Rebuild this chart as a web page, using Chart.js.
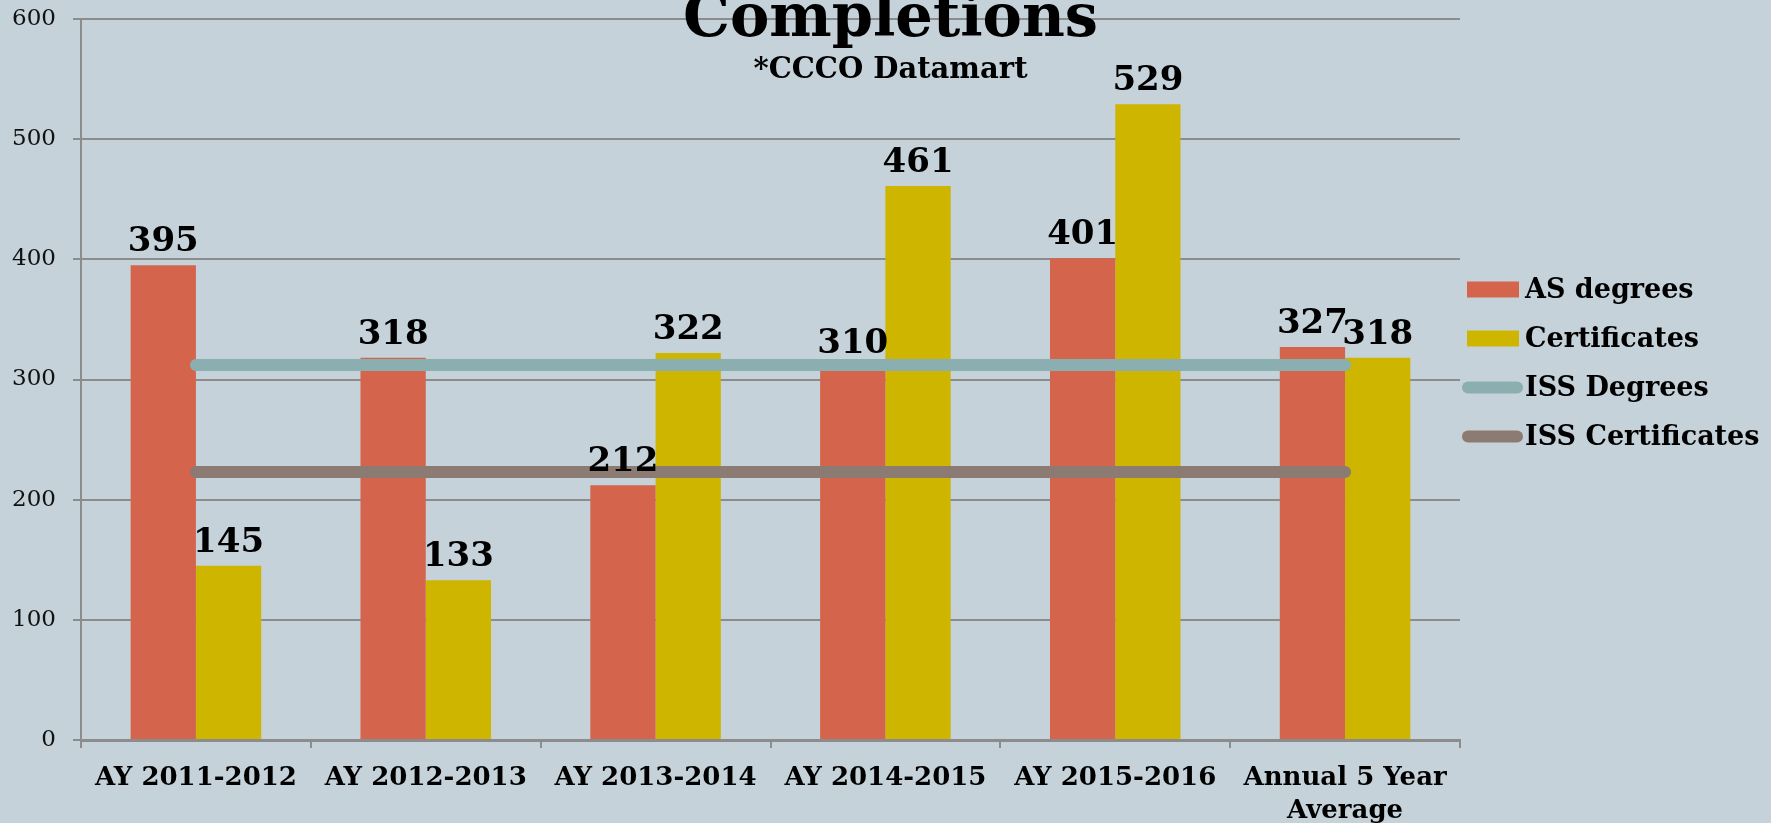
<!DOCTYPE html>
<html>
<head>
<meta charset="utf-8">
<title>Completions</title>
<script src="https://cdn.jsdelivr.net/npm/chart.js@4.4.1/dist/chart.umd.min.js"></script>
<style>
  html, body { margin: 0; padding: 0; background: #C6D2D9; overflow: hidden; }
  #wrap { width: 1771px; height: 823px; position: relative; }
</style>
</head>
<body>
<div id="wrap"><canvas id="completions-chart"></canvas></div>
<script>
// values
const categories = ['AY 2011-2012', 'AY 2012-2013', 'AY 2013-2014', 'AY 2014-2015', 'AY 2015-2016', ['Annual 5 Year', 'Average']];
const asDegrees = [395, 318, 212, 310, 401, 327];
const certificates = [145, 133, 322, 461, 529, 318];
const issDegrees = [312, 312, 312, 312, 312, 312];
const issCertificates = [223, 223, 223, 223, 223, 223];
const yTicks = [0, 100, 200, 300, 400, 500, 600];

const serif = '"DejaVu Serif", "Liberation Serif", serif';
const gridGray = '#8C8C8C';

// draws the numbers above the bars
const barValueLabels = {
    id: 'barValueLabels',
    afterDatasetsDraw(chart) {
        const ctx = chart.ctx;
        ctx.save();
        ctx.font = 'bold 34px ' + serif;
        ctx.fillStyle = '#000';
        ctx.textAlign = 'center';
        ctx.textBaseline = 'alphabetic';
        chart.data.datasets.forEach((ds, i) => {
            if (ds.type !== 'bar') return;
            const meta = chart.getDatasetMeta(i);
            meta.data.forEach((bar, j) => {
                ctx.fillText(ds.data[j], bar.x, bar.y - 14);
            });
        });
        ctx.restore();
    }
};

// title sits partly above the top edge, like in the reference
const cutTitle = {
    id: 'cutTitle',
    afterDraw(chart) {
        const ctx = chart.ctx;
        const cx = chart.width / 2;
        ctx.save();
        ctx.fillStyle = '#000';
        ctx.textAlign = 'center';
        ctx.textBaseline = 'alphabetic';
        ctx.font = 'bold 59px ' + serif;
        ctx.fillText('Completions', cx + 5, 36);
        ctx.font = 'bold 29px ' + serif;
        ctx.fillText('*CCCO Datamart', cx + 5, 78);
        ctx.restore();
    }
};

// legend on the right, drawn by hand to get the spacing right
const sideLegend = {
    id: 'sideLegend',
    afterDraw(chart) {
        const ctx = chart.ctx;
        const area = chart.chartArea;
        const x0 = area.right + 2;
        const mid = (area.top + area.bottom) / 2;
        ctx.save();
        ctx.font = 'bold 27px ' + serif;
        ctx.textBaseline = 'middle';
        ctx.fillStyle = '#000';
        chart.data.datasets.forEach((ds, i) => {
            const y = mid - 90 + 49 * i;
            if (ds.type === 'bar') {
                ctx.fillStyle = ds.backgroundColor;
                ctx.fillRect(x0 + 5, y - 8, 52, 16);
            } else {
                ctx.strokeStyle = ds.borderColor;
                ctx.lineWidth = 12;
                ctx.lineCap = 'round';
                ctx.beginPath();
                ctx.moveTo(x0 + 6, y);
                ctx.lineTo(x0 + 55, y);
                ctx.stroke();
            }
            ctx.fillStyle = '#000';
            ctx.fillText(ds.label, x0 + 63, y + 1);
        });
        ctx.restore();
    }
};

const bgFill = {
    id: 'bgFill',
    beforeDraw(chart) {
        const ctx = chart.ctx;
        ctx.save();
        ctx.fillStyle = '#C6D2D9';
        ctx.fillRect(0, 0, chart.width, chart.height);
        ctx.restore();
    }
};

const ctx = document.getElementById('completions-chart').getContext('2d');

new Chart(ctx, {
    data: {
        labels: categories,
        datasets: [
            {
                type: 'bar',
                label: 'AS degrees',
                data: asDegrees,
                backgroundColor: '#D4644B',
                categoryPercentage: 0.568,
                barPercentage: 1.0,
                order: 1
            },
            {
                type: 'bar',
                label: 'Certificates',
                data: certificates,
                backgroundColor: '#CEB500',
                categoryPercentage: 0.568,
                barPercentage: 1.0,
                order: 1
            },
            {
                type: 'line',
                label: 'ISS Degrees',
                data: issDegrees,
                borderColor: '#8BAFB0',
                borderWidth: 12,
                borderCapStyle: 'round',
                pointRadius: 0,
                fill: false,
                order: 0
            },
            {
                type: 'line',
                label: 'ISS Certificates',
                data: issCertificates,
                borderColor: '#8B7B72',
                borderWidth: 12,
                borderCapStyle: 'round',
                pointRadius: 0,
                fill: false,
                order: 0
            }
        ]
    },
    options: {
        responsive: true,
        maintainAspectRatio: false,
        animation: false,
        layout: {
            padding: { top: 19, right: 311, left: 0, bottom: 0 }
        },
        plugins: {
            legend: { display: false },
            tooltip: { enabled: false },
            title: { display: false }
        },
        scales: {
            x: {
                offset: true,
                grid: {
                    drawOnChartArea: false,
                    drawTicks: true,
                    tickLength: 8,
                    color: gridGray,
                    lineWidth: 2,
                    offset: true
                },
                border: { color: gridGray, width: 3 },
                ticks: {
                    color: '#000',
                    padding: 13,
                    maxRotation: 0,
                    font: { family: serif, size: 26, weight: 'bold', lineHeight: 1.3 }
                },
                afterFit(scale) { scale.height = 83; }
            },
            y: {
                min: 0,
                max: 600,
                afterBuildTicks(scale) {
                    scale.ticks = yTicks.map(v => ({ value: v }));
                },
                grid: {
                    color: gridGray,
                    lineWidth: 2,
                    tickLength: 8
                },
                border: { color: gridGray, width: 2 },
                ticks: {
                    color: '#111',
                    padding: 17,
                    font: { family: serif, size: 23 }
                },
                afterFit(scale) {
                    scale.width = 81;
                    // tick padding would otherwise push the plot down
                    scale.paddingTop = 0;
                    scale.paddingBottom = 0;
                }
            }
        }
    },
    plugins: [bgFill, barValueLabels, cutTitle, sideLegend]
});
</script>
</body>
</html>
